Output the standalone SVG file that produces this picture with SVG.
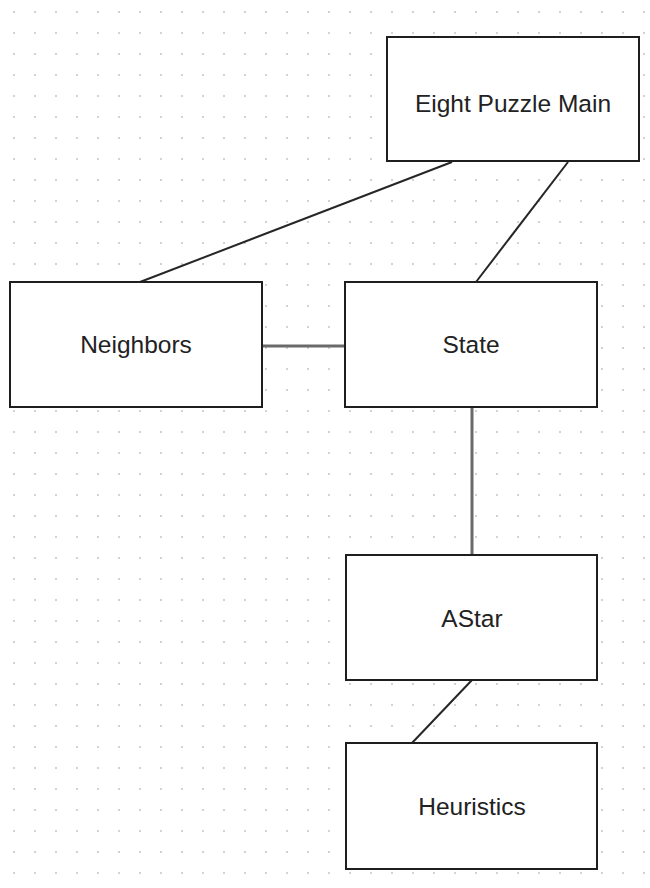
<svg xmlns="http://www.w3.org/2000/svg" width="650" height="888" viewBox="0 0 650 888">
  <defs>
    <pattern id="grid" x="0" y="0" width="21" height="21" patternUnits="userSpaceOnUse">
      <rect x="13" y="11" width="2" height="2" fill="#d2d2d2"/>
    </pattern>
    <style>
      .box { fill: #ffffff; stroke: #1e1e1e; stroke-width: 2; }
      .lbl { font-family: "Liberation Sans", Arial, sans-serif; font-size: 24.5px; fill: #222222; text-anchor: middle; }
      .diag { stroke: #262626; stroke-width: 2; fill: none; }
      .straight { stroke: #6a6a6a; stroke-width: 3; fill: none; }
    </style>
  </defs>
  <rect x="0" y="0" width="650" height="888" fill="#ffffff"/>
  <rect x="0" y="0" width="650" height="888" fill="url(#grid)"/>

  <g id="connectors">
    <line class="diag" x1="452" y1="162" x2="140" y2="282"/>
    <line class="diag" x1="568" y1="162" x2="476" y2="282"/>
    <line class="straight" x1="262" y1="346" x2="345" y2="346"/>
    <line class="straight" x1="472" y1="407" x2="472" y2="555"/>
    <line class="diag" x1="472" y1="680" x2="412" y2="743"/>
  </g>

  <g id="node-main">
    <rect class="box" x="387" y="37" width="252" height="124"/>
    <text class="lbl" x="513" y="112">Eight Puzzle Main</text>
  </g>
  <g id="node-neighbors">
    <rect class="box" x="10" y="282" width="252" height="125"/>
    <text class="lbl" x="136" y="353">Neighbors</text>
  </g>
  <g id="node-state">
    <rect class="box" x="345" y="282" width="252" height="125"/>
    <text class="lbl" x="471" y="353">State</text>
  </g>
  <g id="node-astar">
    <rect class="box" x="346" y="555" width="251" height="125"/>
    <text class="lbl" x="472" y="627">AStar</text>
  </g>
  <g id="node-heuristics">
    <rect class="box" x="346" y="743" width="251" height="126"/>
    <text class="lbl" x="472" y="815">Heuristics</text>
  </g>
</svg>
